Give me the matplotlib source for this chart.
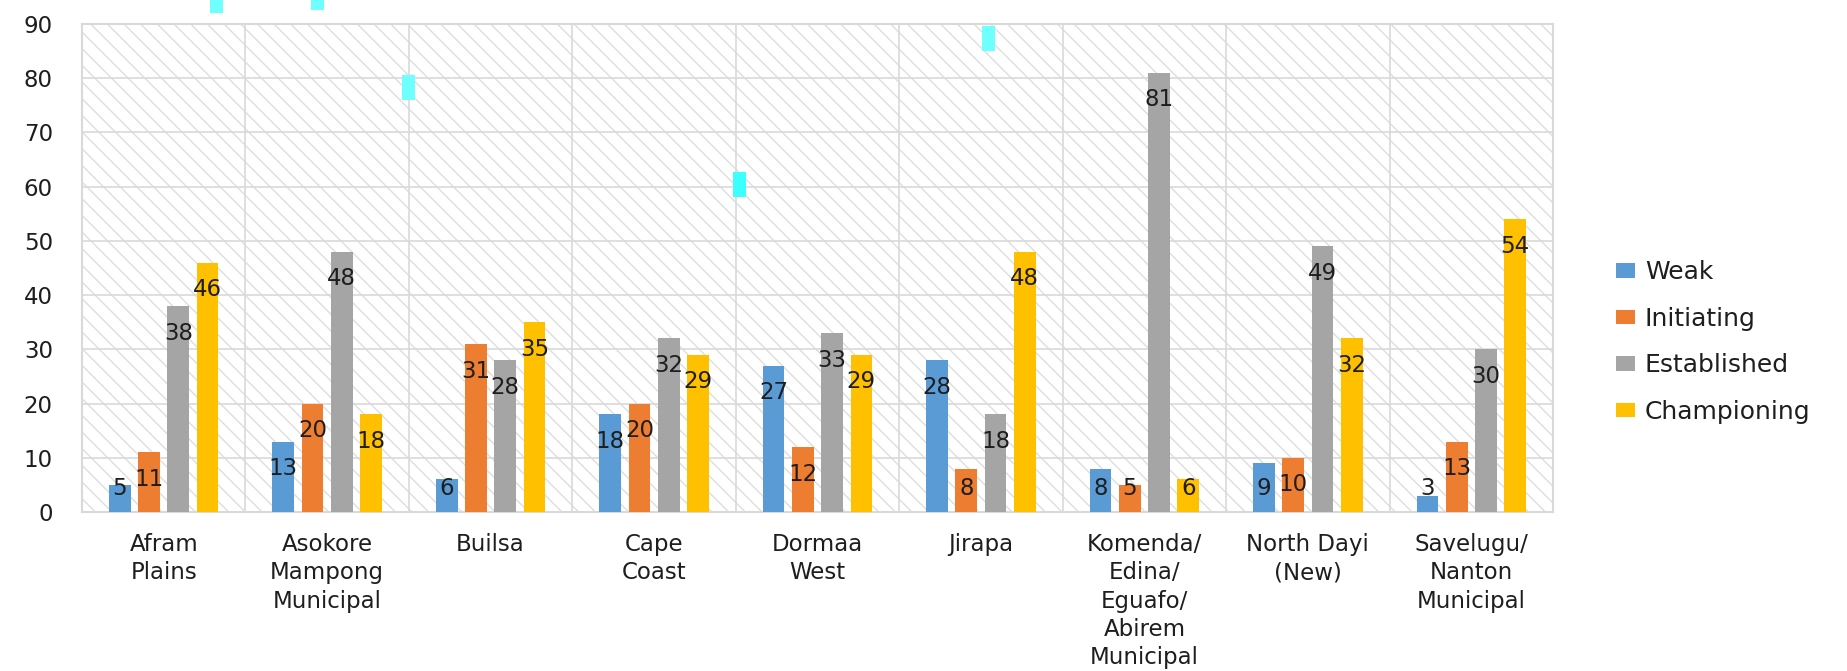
import matplotlib
matplotlib.use("Agg")
import matplotlib.pyplot as plt
from matplotlib.patches import Rectangle
import numpy as np

categories = ["Afram\nPlains", "Asokore\nMampong\nMunicipal", "Builsa", "Cape\nCoast",
              "Dormaa\nWest", "Jirapa", "Komenda/\nEdina/\nEguafo/\nAbirem\nMunicipal",
              "North Dayi\n(New)", "Savelugu/\nNanton\nMunicipal"]
series_names = ["Weak", "Initiating", "Established", "Championing"]
weak = [5, 13, 6, 18, 27, 28, 8, 9, 3]
initiating = [11, 20, 31, 20, 12, 8, 5, 10, 13]
established = [38, 48, 28, 32, 33, 18, 81, 49, 30]
championing = [46, 18, 35, 29, 29, 48, 6, 32, 54]
y_ticks = [0, 10, 20, 30, 40, 50, 60, 70, 80, 90]

colors = ["#5B9BD5", "#ED7D31", "#A5A5A5", "#FFC000"]
series = [weak, initiating, established, championing]

W, H = 1847, 671
plt.rcParams["hatch.linewidth"] = 1.0
fig = plt.figure(figsize=(W / 100, H / 100), dpi=100)
fig.patch.set_facecolor("white")
ax = fig.add_axes([82 / W, 1 - 512 / H, (1553 - 82) / W, (512 - 24) / H])

bg = Rectangle((0, 0), 1, 1, transform=ax.transAxes, facecolor="white",
               edgecolor="#DEDEDE", hatch="\\" * 2, lw=0, zorder=0)
ax.add_patch(bg)
ax.set_facecolor("white")

x = np.arange(len(categories))
step = 0.179
width = 0.133
txtcol = "#1E1E1E"
for k, (vals, col, name) in enumerate(zip(series, colors, series_names)):
    pos = x + (k - 1.5) * step
    ax.bar(pos, vals, width=width, color=col, label=name, linewidth=0, zorder=3)
    for px, v in zip(pos, vals):
        ax.text(px, max(v - 5.0, 4.4), f"{v:.0f}", ha="center", va="center",
                fontsize=16.5, color=txtcol, zorder=4)

ax.set_xlim(-0.5, len(categories) - 0.5)
ax.set_ylim(0, 90)
ax.set_yticks(y_ticks)
ax.set_yticklabels([str(t) for t in y_ticks])
ax.set_xticks(x)
ax.set_xticklabels(categories, linespacing=1.3)
ax.tick_params(axis="both", length=0, labelsize=16.5, colors=txtcol)
ax.tick_params(axis="y", pad=21)
ax.tick_params(axis="x", pad=15)

gcol = "#D9D9D9"
for t in y_ticks[1:-1]:
    ax.axhline(t, color=gcol, lw=1.2, zorder=1)
for b in np.arange(0.5, len(categories) - 0.5, 1.0):
    ax.axvline(b, color=gcol, lw=1.2, zorder=1)
for s in ax.spines.values():
    s.set_color(gcol)
    s.set_linewidth(1.5)

leg = fig.legend(loc="center left", bbox_to_anchor=(1616 / W, 1 - 342 / H),
                 frameon=False, fontsize=18, handlelength=0.75, handleheight=0.5,
                 handletextpad=0.4, labelspacing=0.9, borderpad=0, borderaxespad=0)
for t in leg.get_texts():
    t.set_color(txtcol)

# cyan artifacts present in the reference picture
cyan_boxes = [(210, 0, 13, 13, "#70FFFF"), (311, 0, 13, 10, "#70FFFF"),
              (402, 75, 13, 25, "#70FFFF"), (733, 172, 13, 25, "#3CFFFF"),
              (982, 26, 13, 25, "#70FFFF")]
for bx, by, bw, bh, c in cyan_boxes:
    fig.add_artist(Rectangle((bx / W, 1 - (by + bh) / H), bw / W, bh / H,
                             transform=fig.transFigure, facecolor=c, lw=0, zorder=10))

fig.savefig("out.png", dpi=100, facecolor="white")
